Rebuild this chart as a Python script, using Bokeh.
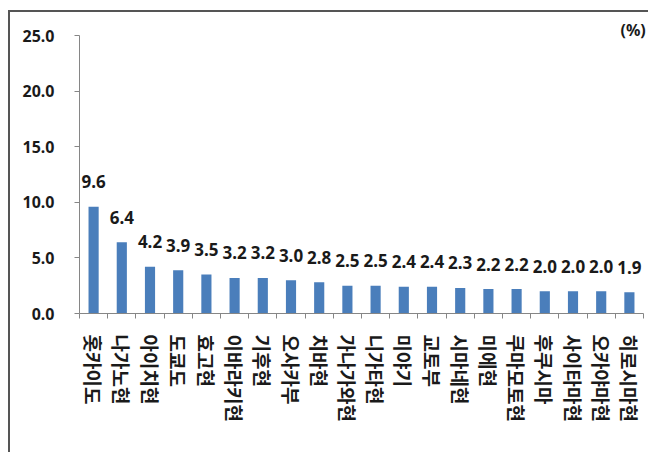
from bokeh.plotting import figure
from bokeh.models import (ColumnDataSource, FixedTicker, LinearAxis, NumeralTickFormatter,
                          Range1d)
from bokeh.core.properties import value
from bokeh.embed import file_html
from bokeh.resources import INLINE

categories = ["홋카이도", "나가노현", "아이치현", "도쿄도", "효고현", "이바라키현", "기후현",
              "오사카부", "치바현", "가나가와현", "니가타현", "미야기", "교토부", "시마네현",
              "미에현", "쿠마모토현", "후쿠시마", "사이타마현", "오카야마현", "히로시마현"]
values = [9.6, 6.4, 4.2, 3.9, 3.5, 3.2, 3.2, 3.0, 2.8, 2.5, 2.5, 2.4, 2.4, 2.3, 2.2, 2.2,
          2.0, 2.0, 2.0, 1.9]
y_ticks = [0, 5, 10, 15, 20, 25]
unit_label = "(%)"

positions = list(range(1, len(categories) + 1))
source = ColumnDataSource(data=dict(
    x=positions, top=values, label=[f"{v:.1f}" for v in values]))

NUM_FONT = "Noto Sans"
KR_FONT = "Noto Sans CJK KR"
AXIS_COLOR = "#868686"
TEXT_COLOR = "#1a1a1a"

p = figure(width=640, height=442, output_backend="svg", toolbar_location=None,
           x_range=Range1d(0.5, len(categories) + 0.5), y_range=Range1d(0, 25),
           min_border_left=69, min_border_right=7, min_border_top=23, min_border_bottom=141,
           x_axis_type=None, y_axis_type=None, title=unit_label)
p.margin = (10, 0, 0, 8)
p.styles = {"border-left": "2px solid #555555", "border-top": "2px solid #555555"}
p.outline_line_color = None
p.xgrid.visible = False
p.ygrid.visible = False
p.background_fill_color = "white"
p.border_fill_color = "white"

p.title.align = "left"
p.title.offset = 541
p.title.standoff = -10
p.title.text_font = NUM_FONT
p.title.text_font_style = "bold"
p.title.text_font_size = "16px"
p.title.text_color = TEXT_COLOR

p.vbar(x="x", top="top", width=0.36, source=source, fill_color="#4a7ebb", line_color=None)

p.text(x="x", y="top", text="label", source=source, text_align="center",
       text_baseline="alphabetic", y_offset=-25, text_font=value(NUM_FONT),
       text_font_style="bold", text_font_size="17px", text_color=TEXT_COLOR)

# y axis
yax = LinearAxis(ticker=FixedTicker(ticks=y_ticks), formatter=NumeralTickFormatter(format="0.0"))
yax.axis_line_color = AXIS_COLOR
yax.major_tick_line_color = AXIS_COLOR
yax.major_tick_out = 5
yax.major_tick_in = 0
yax.minor_tick_line_color = None
yax.major_label_standoff = 20
yax.major_label_text_font = NUM_FONT
yax.major_label_text_font_style = "bold"
yax.major_label_text_font_size = "16px"
yax.major_label_text_color = TEXT_COLOR
p.add_layout(yax, "left")

# x axis: labels at bar centres, ticks at category boundaries
boundaries = [i + 0.5 for i in range(len(categories) + 1)]
xax = LinearAxis(ticker=FixedTicker(ticks=positions, minor_ticks=boundaries))
xax.major_label_overrides = {pos: cat for pos, cat in zip(positions, categories)}
xax.axis_line_color = AXIS_COLOR
xax.major_tick_line_color = None
xax.major_tick_out = 0
xax.major_tick_in = 0
xax.minor_tick_line_color = AXIS_COLOR
xax.minor_tick_out = 5
xax.minor_tick_in = 0
xax.major_label_orientation = "vertical"
xax.major_label_standoff = 16
xax.major_label_text_font = KR_FONT
xax.major_label_text_font_style = "bold"
xax.major_label_text_font_size = "19px"
xax.major_label_text_color = TEXT_COLOR
p.add_layout(xax, "below")

open("out.html", "w").write(file_html(p, INLINE))
